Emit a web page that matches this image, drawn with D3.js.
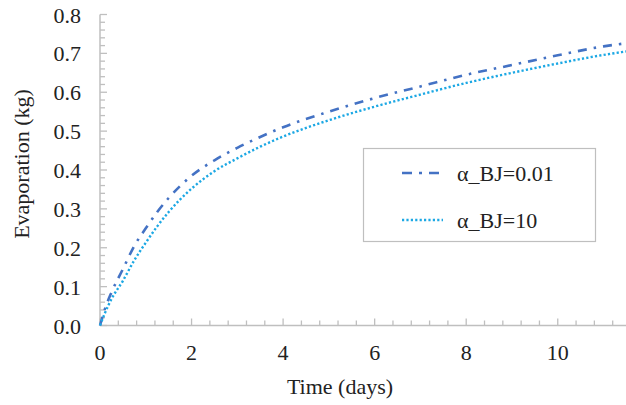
<!DOCTYPE html>
<html><head><meta charset="utf-8">
<script src="https://cdn.jsdelivr.net/npm/d3@7"></script>
<style>
html,body,svg,text,div{font-family:'Liberation Serif',Tinos,'Nimbus Roman',FreeSerif,serif !important}
body{margin:0;background:#fff}
#wrap{position:relative;width:626px;height:405px;overflow:hidden}
svg{display:block;position:absolute;left:0;top:0}
.t{position:absolute;color:#222;line-height:1;white-space:nowrap}
</style>
</head><body style="font-family:'Liberation Serif',serif"><div id="wrap"><svg id="c" width="626" height="405"></svg></div>
<script>
const timeDays = [0,0.1,0.25,0.5,0.75,1,1.25,1.5,2,2.5,3,3.5,4,5,6,7,8,9,10,11,11.5];
const evapBJ001 = [0,0.04,0.085,0.145,0.205,0.25,0.292,0.328,0.385,0.425,0.457,0.485,0.51,0.55,0.585,0.615,0.645,0.67,0.695,0.718,0.726];
const evapBJ10  = [0,0.03,0.068,0.115,0.168,0.213,0.255,0.292,0.352,0.397,0.43,0.46,0.486,0.528,0.563,0.594,0.624,0.65,0.674,0.696,0.705];
const seriesNames = ["α_BJ=0.01","α_BJ=10"];
const xTickLabels = [0,2,4,6,8,10];
const yTickLabels = [0,0.1,0.2,0.3,0.4,0.5,0.6,0.7,0.8];

const FONT = "'Liberation Serif', Tinos, 'Nimbus Roman', FreeSerif, serif";
const svg = d3.select("#c");
const wrap = d3.select("#wrap");
const x = d3.scaleLinear().domain([0,11.6]).range([100,631]);
const y = d3.scaleLinear().domain([0,0.8]).range([325.5,14.5]);
const axisCol = "#bfbfbf";

function label(txt, px, py, size, ax, rot){
  return wrap.append("div").attr("class","t")
    .style("font-family",FONT,"important").style("font-size",size+"px").text(txt)
    .style("left",px+"px").style("top",py+"px")
    .style("transform",`translate(${-ax*100}%,-50%)` + (rot?` rotate(${rot}deg)`:""));
}

const g = svg.append("g");
d3.range(0,11.61,0.4).forEach(v=>{
  const major = Math.abs(v/2-Math.round(v/2))<1e-6;
  g.append("line").attr("x1",x(v)).attr("x2",x(v)).attr("y1",y(0)).attr("y2",y(0)-(major?7:5))
   .attr("stroke",axisCol).attr("stroke-width",1.3);
});
d3.range(0,0.801,0.02).forEach(v=>{
  const major = Math.abs(v*10-Math.round(v*10))<1e-6;
  g.append("line").attr("y1",y(v)).attr("y2",y(v)).attr("x1",x(0)).attr("x2",x(0)+(major?7:5))
   .attr("stroke",axisCol).attr("stroke-width",1.3);
});
g.append("line").attr("x1",x(0)).attr("x2",626).attr("y1",y(0)).attr("y2",y(0)).attr("stroke",axisCol).attr("stroke-width",1.5);
g.append("line").attr("x1",x(0)).attr("x2",x(0)).attr("y1",y(0)).attr("y2",y(0.8)).attr("stroke",axisCol).attr("stroke-width",1.5);

yTickLabels.forEach(d=>label(d.toFixed(1), 81, y(d)+1, 22, 1));
xTickLabels.forEach(d=>label(String(d), x(d), 353, 22, 0.5));
label("Time (days)", 340, 387, 22, 0.5);
label("Evaporation (kg)", 22, 164, 22, 0.5, -90);

const line = d3.line().x((d,i)=>x(timeDays[i])).y(d=>y(d)).curve(d3.curveMonotoneX);
const styles = [
  {data:evapBJ001,color:"#4472C4",dash:"9,7,2.5,7",w:2.6},
  {data:evapBJ10,color:"#1CA8E4",dash:"2.2,2.2",w:2.4}
];
svg.append("clipPath").attr("id","clp").append("rect").attr("x",98).attr("y",0).attr("width",528).attr("height",330);
styles.forEach(s=>{
  svg.append("path").attr("d",line(s.data)).attr("fill","none").attr("stroke",s.color)
    .attr("stroke-width",s.w).attr("stroke-dasharray",s.dash).attr("clip-path","url(#clp)");
});

const lg = svg.append("g");
lg.append("rect").attr("x",363.5).attr("y",148.5).attr("width",232).attr("height",93)
  .attr("fill","#fff").attr("stroke","#bfbfbf").attr("stroke-width",1.2);
styles.forEach((s,i)=>{
  const yy = 173 + i*47;
  lg.append("line").attr("x1",402).attr("x2",443).attr("y1",yy).attr("y2",yy)
    .attr("stroke",s.color).attr("stroke-width",s.w).attr("stroke-dasharray",i===0?"10,7,3,7":s.dash);
  label(seriesNames[i], 457, yy+1, 22, 0);
});
</script></body></html>
